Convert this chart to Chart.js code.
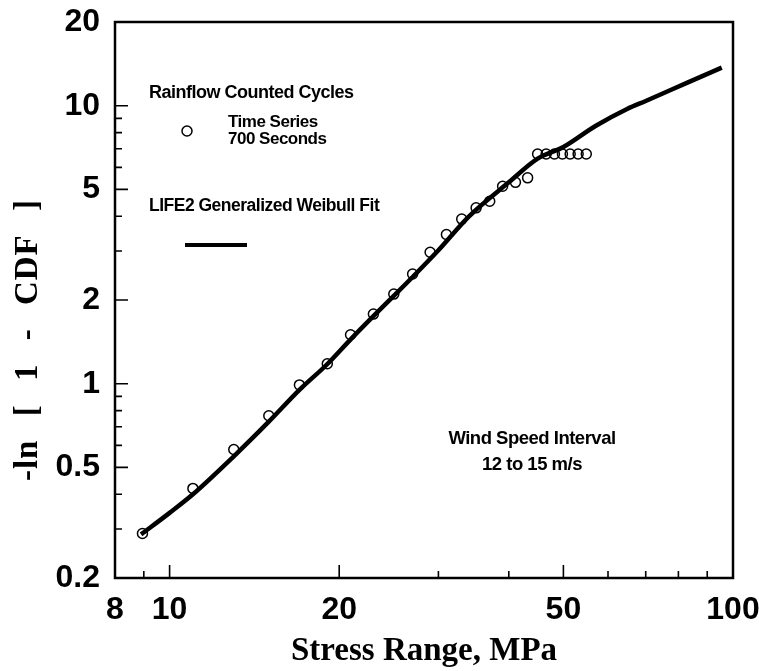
<!DOCTYPE html>
<html><head><meta charset="utf-8">
<script src="https://cdn.jsdelivr.net/npm/chart.js@4.4.1/dist/chart.umd.min.js"></script>
<style>html,body{margin:0;padding:0;background:#fff}canvas{display:block}</style>
</head><body>
<canvas id="c" width="759" height="671"></canvas>
<script>
// Rainflow counted cycles (time series, 700 seconds)
const obsStress = [8.95, 11.0, 13.0, 15.0, 17.0, 19.05, 20.95, 23.0, 25.0, 27.0, 29.0, 31.0, 33.0, 35.0, 37.0, 39.0, 41.1, 43.2, 45.0, 46.6, 48.2, 49.8, 51.4, 53.1, 54.9];
const obsCdf    = [0.289, 0.42, 0.58, 0.767, 0.99, 1.18, 1.50, 1.78, 2.10, 2.48, 2.97, 3.44, 3.91, 4.29, 4.53, 5.13, 5.30, 5.50, 6.70, 6.70, 6.70, 6.70, 6.70, 6.70, 6.70];
// LIFE2 generalized Weibull fit
const fitStress = [8.9, 10, 11, 13, 15, 17, 19, 21, 23, 25, 27, 30, 34, 40, 45, 50, 57, 65, 70, 83, 95.5];
const fitCdf    = [0.287, 0.343, 0.40, 0.548, 0.73, 0.95, 1.17, 1.45, 1.75, 2.07, 2.42, 3.02, 4.0, 5.3, 6.45, 7.1, 8.45, 9.75, 10.4, 12.1, 13.7];
// axis ticks
const xTickValues = [8, 10, 20, 50, 100];
const yTickValues = [0.2, 0.5, 1, 2, 5, 10, 20];
const xMajorMarks = [10, 20, 50];
const xMinorMarks = [9, 30, 40, 60, 70, 80, 90];
const yMajorMarks = [0.5, 1, 2, 5, 10];
const yMinorMarks = [0.3, 0.4, 0.6, 0.7, 0.8, 0.9, 3, 4, 6, 7, 8, 9];
const yTitleText = '-ln [ 1 - CDF ]';

const tickFont = {family: '"Liberation Sans", Arial, sans-serif', size: 32, weight: 'bold'};
const titleFont = {family: '"Liberation Serif", "Times New Roman", serif', size: 33, weight: 'bold'};

const framePlugin = {
  id: 'frame',
  beforeDatasetsDraw(chart) {
    const {ctx, chartArea: a, scales: {x, y}} = chart;
    ctx.save();
    ctx.strokeStyle = '#000';
    ctx.lineWidth = 2.5;
    ctx.strokeRect(a.left, a.top, a.right - a.left, a.bottom - a.top);
    ctx.lineWidth = 1.6;
    ctx.beginPath();
    const xm = (vals, len) => vals.forEach(v => { const p = x.getPixelForValue(v); ctx.moveTo(p, a.bottom); ctx.lineTo(p, a.bottom - len); });
    const ym = (vals, len) => vals.forEach(v => { const p = y.getPixelForValue(v); ctx.moveTo(a.left, p); ctx.lineTo(a.left + len, p); });
    xm(xMajorMarks, 13); xm(xMinorMarks, 7);
    ym(yMajorMarks, 13); ym(yMinorMarks, 7);
    ctx.stroke();
    ctx.restore();
  }
};

const notePlugin = {
  id: 'notes',
  afterDraw(chart) {
    const {ctx, chartArea: a} = chart;
    const L = a.left, T = a.top;
    ctx.save();
    ctx.fillStyle = '#000';
    ctx.textBaseline = 'alphabetic';
    try { ctx.letterSpacing = '-0.5px'; } catch (e) {}
    const f = s => 'bold ' + s + 'px "Liberation Sans", Arial, sans-serif';
    ctx.textAlign = 'left';
    ctx.font = f(18); ctx.fillText('Rainflow Counted Cycles', L + 34, T + 76);
    ctx.font = f(17); ctx.fillText('Time Series', L + 113, T + 105);
    ctx.fillText('700 Seconds', L + 113, T + 122);
    ctx.font = f(17.5); ctx.fillText('LIFE2 Generalized Weibull Fit', L + 34, T + 189);
    ctx.font = f(18.5); ctx.textAlign = 'center';
    ctx.fillText('Wind Speed Interval', L + 417, T + 422);
    ctx.fillText('12 to 15 m/s', L + 417, T + 448);
    // legend symbols
    ctx.lineWidth = 1.5; ctx.strokeStyle = '#000';
    ctx.beginPath(); ctx.arc(L + 72, T + 109, 5, 0, Math.PI * 2); ctx.stroke();
    ctx.lineWidth = 4; ctx.lineCap = 'butt';
    ctx.beginPath(); ctx.moveTo(L + 70, T + 223); ctx.lineTo(L + 132, T + 223); ctx.stroke();
    // y axis title
    ctx.save();
    try { ctx.letterSpacing = '1px'; ctx.wordSpacing = '14px'; } catch (e) {}
    ctx.translate(28, T + 177);
    ctx.rotate(-Math.PI / 2);
    ctx.font = 'bold 33px "Liberation Serif", "Times New Roman", serif';
    ctx.textAlign = 'right';
    ctx.textBaseline = 'middle';
    ctx.fillText(yTitleText, 0, 0);
    ctx.restore();
    ctx.restore();
  }
};

new Chart(document.getElementById('c'), {
  type: 'scatter',
  data: {
    datasets: [
      {
        label: 'LIFE2 Generalized Weibull Fit',
        type: 'line',
        data: fitStress.map((v, i) => ({x: v, y: fitCdf[i]})),
        borderColor: '#000', borderWidth: 4.5, pointRadius: 0,
        fill: false, cubicInterpolationMode: 'monotone', order: 0
      },
      {
        label: 'Rainflow Counted Cycles',
        data: obsStress.map((v, i) => ({x: v, y: obsCdf[i]})),
        pointStyle: 'circle', pointRadius: 5, borderWidth: 1.5,
        borderColor: '#000', backgroundColor: 'rgba(0,0,0,0)', order: 1
      }
    ]
  },
  options: {
    responsive: false, animation: false, devicePixelRatio: 1,
    layout: {padding: {top: 22, right: 26, left: 0, bottom: 0}},
    plugins: {legend: {display: false}, tooltip: {enabled: false}},
    scales: {
      x: {
        type: 'logarithmic', min: 8, max: 100,
        afterBuildTicks: s => { s.ticks = xTickValues.map(v => ({value: v})); },
        afterFit: s => { s.height = 93; s.paddingLeft = 0; s.paddingRight = 0; },
        grid: {display: false, drawTicks: false}, border: {display: false},
        ticks: {color: '#000', font: tickFont, padding: 13, autoSkip: false, maxRotation: 0,
          callback: v => String(v)},
        title: {display: true, text: 'Stress Range, MPa', color: '#000', font: titleFont, padding: {top: 0, bottom: 0}}
      },
      y: {
        type: 'logarithmic', min: 0.2, max: 20,
        afterBuildTicks: s => { s.ticks = yTickValues.map(v => ({value: v})); },
        afterFit: s => { s.width = 115; s.paddingTop = 0; s.paddingBottom = 0; },
        grid: {display: false, drawTicks: false}, border: {display: false},
        ticks: {color: '#000', font: tickFont, padding: 15, autoSkip: false,
          callback: v => String(v)},
        title: {display: false}
      }
    }
  },
  plugins: [framePlugin, notePlugin]
});
</script>
</body></html>
